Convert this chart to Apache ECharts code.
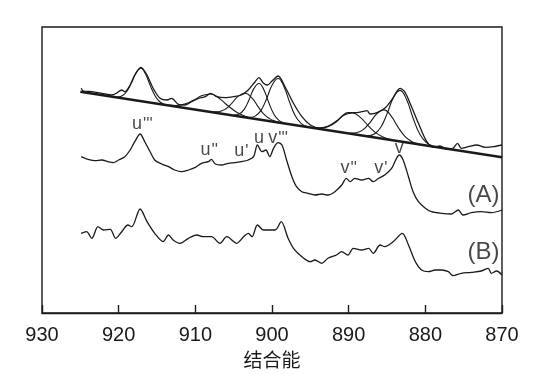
<!DOCTYPE html>
<html>
<head>
<meta charset="utf-8">
<script src="https://cdn.jsdelivr.net/npm/echarts@6/dist/echarts.min.js"></script>
<style>
  html, body { margin: 0; padding: 0; background: #fff; }
  #chart { width: 537px; height: 374px; }
</style>
</head>
<body>
<div id="chart"></div>
<script>
// binding energy (eV) / intensity (a.u.) pairs

var fitRaw = [
  [924.9, 224.7], [924.6, 222.0], [923.5, 221.3], [922.2, 219.7], [920.9, 218.0], [920.3, 219.7],
  [919.6, 223.0], [919.2, 221.3], [918.5, 228.0], [917.9, 238.0], [917.1, 245.7], [916.3, 238.0],
  [915.5, 224.7], [914.6, 214.7], [913.7, 213.0], [913.1, 214.7], [912.2, 208.7], [911.3, 208.0],
  [910.5, 211.3], [909.6, 214.7], [908.7, 216.3], [908.0, 219.7], [907.2, 216.3], [906.1, 215.3],
  [905.0, 216.3], [904.0, 218.0], [903.1, 223.0], [902.2, 231.3], [901.7, 235.3], [901.1, 229.7],
  [900.6, 228.0], [900.0, 232.0], [899.2, 237.0], [898.3, 226.3], [897.2, 209.7], [896.1, 196.3],
  [895.0, 188.0], [893.7, 184.7], [892.7, 186.3], [891.6, 191.3], [890.7, 198.0], [890.1, 200.3],
  [889.2, 200.3], [888.3, 201.3], [887.6, 202.3], [887.2, 199.0], [886.3, 200.3], [885.3, 204.7],
  [884.4, 213.0], [883.3, 224.7], [882.7, 221.3], [881.8, 206.3], [880.9, 189.7], [879.8, 171.3],
  [878.9, 165.7], [878.1, 167.0], [877.2, 163.7], [876.4, 164.7], [875.8, 169.7], [875.3, 164.7],
  [874.4, 166.3], [873.3, 168.0], [872.2, 165.7], [871.1, 166.3], [870.0, 168.0]
];

var fitBaseline = [[925, 221.3], [870, 155.7]];

var peakU3 = [[920.2, 216.0], [919.6, 217.0], [919.0, 221.0], [918.35, 229.9], [917.7, 240.4], [917.1, 244.9],
  [916.5, 239.0], [915.85, 226.9], [915.2, 216.5], [914.6, 211.0], [914.0, 208.6]];
var peakU2 = [[913.6, 207.9], [912.5, 207.5], [911.4, 208.9], [910.25, 212.7], [909.1, 217.4], [908.0, 219.0],
  [906.9, 214.8], [905.75, 207.3], [904.6, 200.8], [903.5, 196.8], [902.4, 194.5]];
var peakU1 = [[907.9, 201.2], [907.0, 201.3], [906.1, 203.8], [905.25, 209.7], [904.4, 216.9], [903.5, 219.7],
  [902.6, 214.8], [901.75, 205.6], [900.9, 197.6], [900.0, 193.0], [899.1, 190.7]];
var peakU0 = [[904.95, 197.9], [904.3, 198.9], [903.65, 203.4], [903.0, 213.1], [902.35, 224.6], [901.7, 229.5],
  [901.05, 223.0], [900.4, 210.0], [899.75, 198.8], [899.1, 192.7], [898.45, 190.1]];
var peakV3 = [[902.95, 195.6], [902.2, 196.9], [901.45, 202.4], [900.7, 214.3], [899.95, 228.4], [899.2, 234.5],
  [898.45, 226.6], [897.7, 210.7], [896.95, 197.0], [896.2, 189.7], [895.45, 186.6]];
var peakV2 = [[894.75, 185.5], [893.7, 185.3], [892.65, 187.1], [891.6, 192.0], [890.55, 197.9], [889.5, 200.0],
  [888.45, 195.4], [887.4, 186.9], [886.35, 179.6], [885.3, 175.2], [884.25, 173.0]];
var peakV1 = [[889.9, 179.8], [889.0, 180.2], [888.1, 183.4], [887.2, 190.7], [886.3, 199.5], [885.4, 203.1],
  [884.5, 197.4], [883.6, 186.4], [882.7, 176.9], [881.8, 171.6], [880.9, 169.1]];
var peakV0 = [[887.55, 177.3], [886.7, 178.8], [885.85, 185.3], [885.0, 199.1], [884.15, 215.5], [883.3, 222.6],
  [882.45, 213.4], [881.6, 195.0], [880.75, 179.2], [879.9, 170.7], [879.05, 167.2]];

var specA = [
  [924.9, 156.3], [924.0, 153.7], [923.1, 152.3], [922.2, 153.0], [921.4, 151.3], [920.7, 150.3],
  [920.0, 153.0], [919.2, 156.3], [918.5, 163.0], [917.9, 171.3], [917.2, 179.0], [916.6, 171.3],
  [915.9, 161.3], [915.3, 153.0], [914.4, 149.0], [913.5, 146.3], [912.7, 143.0], [911.8, 141.3],
  [910.9, 143.0], [910.0, 145.7], [909.2, 149.7], [908.3, 151.3], [907.9, 153.7], [907.4, 149.0],
  [906.6, 148.0], [905.7, 149.7], [904.8, 150.3], [904.0, 151.3], [903.1, 153.0], [902.4, 156.3],
  [901.9, 168.0], [901.3, 161.3], [900.8, 163.0], [900.3, 156.3], [899.8, 164.7], [899.2, 170.3],
  [898.7, 168.0], [898.1, 153.0], [897.4, 136.3], [896.8, 126.3], [896.1, 121.3], [895.3, 119.7],
  [894.4, 118.0], [893.5, 119.0], [892.7, 118.0], [891.8, 121.3], [890.9, 128.0], [890.3, 134.7],
  [889.8, 131.3], [889.2, 134.7], [888.3, 133.0], [887.4, 134.7], [886.8, 131.3], [886.1, 134.7],
  [885.3, 138.0], [884.4, 144.7], [883.4, 158.0], [882.9, 153.0], [882.2, 136.3], [881.6, 121.3],
  [880.9, 111.3], [880.0, 104.7], [879.2, 101.3], [877.9, 99.7], [876.6, 99.0], [875.7, 103.0],
  [875.1, 98.0], [874.0, 100.3], [872.7, 101.3], [871.4, 100.3], [870.0, 103.0]
];

var specB = [
  [924.9, 79.7], [924.2, 81.3], [923.5, 74.7], [922.7, 86.3], [922.0, 83.0], [921.1, 83.7],
  [920.4, 74.7], [919.6, 81.3], [918.8, 88.0], [918.3, 86.3], [917.2, 104.0], [916.3, 91.3],
  [915.3, 79.7], [914.2, 71.3], [913.5, 78.0], [912.9, 73.0], [912.0, 69.7], [910.9, 74.7],
  [909.8, 78.0], [909.0, 76.3], [907.9, 76.3], [906.8, 69.7], [905.9, 76.3], [904.6, 69.7],
  [903.7, 76.3], [903.1, 79.7], [902.6, 76.3], [901.9, 88.0], [901.1, 83.0], [899.6, 83.0],
  [898.8, 91.3], [897.9, 74.7], [897.2, 64.7], [896.1, 56.3], [895.0, 51.3], [894.4, 53.0],
  [893.5, 49.7], [892.7, 54.7], [891.6, 58.0], [890.9, 61.3], [890.1, 58.0], [889.4, 64.7],
  [888.3, 63.0], [887.4, 64.7], [886.8, 59.7], [885.9, 68.0], [885.3, 66.3], [884.2, 71.3],
  [883.0, 79.7], [882.2, 68.0], [881.3, 51.3], [880.5, 43.0], [879.6, 41.3], [878.7, 43.0],
  [877.9, 43.0], [877.0, 41.3], [876.4, 37.3], [875.3, 39.7], [874.0, 40.7], [872.7, 42.0],
  [871.8, 44.7], [871.4, 39.7], [870.7, 42.0], [870.0, 38.0]
];

// peak names, their primes and where the name sits
var peakNames  = ['u', 'u', 'u', 'u', 'v', 'v', 'v', 'v'];
var peakPrimes = ["'''", "''", "'", '', "'''", "''", "'", ''];
var peakLabelAt = [[916.9, 189], [908.2, 163], [904.0, 162], [901.7, 175],
  [899.2, 175], [890.0, 145], [885.8, 145], [883.4, 165]];

var curveNames = ['(A)', '(B)'];
var curveNameAt = [[872.4, 118], [872.4, 61]];

var xTicks = [930, 920, 910, 900, 890, 880, 870];

var ink = '#1a1a1a';

var dom = document.getElementById('chart');
var myChart = echarts.init(dom);

function thin(data) {
    return {
        type: 'line', data: data, symbol: 'none', smooth: 0.45,
        lineStyle: {color: ink, width: 1.1}, silent: true, z: 2
    };
}

var labelData = peakNames.map(function (n, i) {
    return {value: peakLabelAt[i], name: n, prime: peakPrimes[i]};
});
var curveLabelData = curveNames.map(function (n, i) {
    return {value: curveNameAt[i], name: n};
});

var option = {
    animation: false,
    backgroundColor: '#fff',
    grid: {
        left: 42, right: 35, top: 27, bottom: 61,
        show: true, borderColor: ink, borderWidth: 1.4
    },
    xAxis: {
        type: 'value', inverse: true, min: 870, max: 930, interval: 10,
        name: '结合能', nameLocation: 'middle', nameGap: 35,
        nameTextStyle: {fontFamily: 'Noto Sans CJK SC', fontSize: 19, color: ink},
        axisLine: {show: true, lineStyle: {color: ink, width: 1.4}},
        axisTick: {show: true, inside: true, length: 8, lineStyle: {color: ink, width: 1.4}},
        axisLabel: {
            fontFamily: 'Liberation Sans', fontSize: 20, color: ink, margin: 12,
            formatter: function (v) { return xTicks.indexOf(v) >= 0 ? String(v) : ''; }
        },
        splitLine: {show: false}
    },
    yAxis: {
        type: 'value', min: 0, max: 286,
        axisLine: {show: false}, axisTick: {show: false},
        axisLabel: {show: false}, splitLine: {show: false}
    },
    series: [
        thin(peakU3), thin(peakU2), thin(peakU1), thin(peakU0),
        thin(peakV3), thin(peakV2), thin(peakV1), thin(peakV0),
        {
            type: 'line', data: fitBaseline, symbol: 'none',
            lineStyle: {color: ink, width: 2.6}, z: 3
        },
        {
            type: 'line', data: fitRaw, symbol: 'none', smooth: 0.3,
            lineStyle: {color: ink, width: 1.3}, z: 4
        },
        {
            type: 'line', data: specA, symbol: 'none', smooth: 0.3,
            lineStyle: {color: ink, width: 1.3}
        },
        {
            type: 'line', data: specB, symbol: 'none', smooth: 0.3,
            lineStyle: {color: ink, width: 1.3}
        },
        {
            type: 'scatter', data: labelData, symbolSize: 0, silent: true, z: 5,
            label: {
                show: true, position: 'inside',
                formatter: function (p) {
                    return p.data.prime ? '{m|' + p.data.name + '}{s|' + p.data.prime + '}' : '{m|' + p.data.name + '}';
                },
                rich: {
                    m: {fontFamily: 'Liberation Sans', fontSize: 18, color: ink, verticalAlign: 'bottom'},
                    s: {fontFamily: 'Liberation Sans', fontSize: 17, color: ink, verticalAlign: 'bottom', padding: [0, 0, 0, 1]}
                }
            }
        },
        {
            type: 'scatter', data: curveLabelData, symbolSize: 0, silent: true, z: 5,
            label: {
                show: true, position: 'inside',
                formatter: '{b}',
                fontFamily: 'Liberation Sans', fontSize: 24, color: ink
            }
        }
    ]
};

if (option && typeof option === 'object') {
    myChart.setOption(option, true);
}
</script>
</body>
</html>
